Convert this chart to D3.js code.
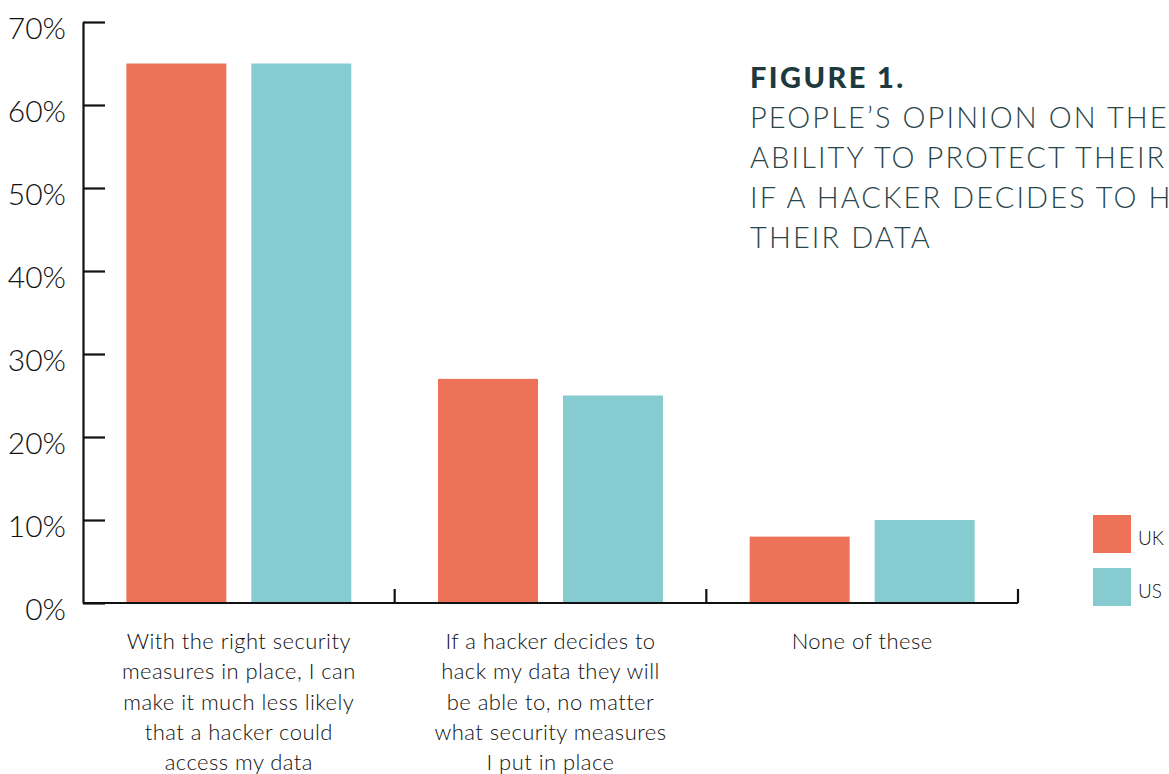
<!DOCTYPE html>
<html lang="en">
<head>
  <meta charset="UTF-8">
  <title>Figure 1</title>
  <style>
    body { margin: 0; background: #fff; }
    svg { display: block; font-family: Lato, "Open Sans", sans-serif; }
  </style>
</head>
<body>
  <script src="https://cdn.jsdelivr.net/npm/d3@7/dist/d3.min.js"></script>
  <script>
    // data
    let categories = ["right", "hacker", "none"];
    let labels = [
      ["With the right security", "measures in place, I can", "make it much less likely", "that a hacker could", "access my data"],
      ["If a hacker decides to", "hack my data they will", "be able to, no matter", "what security measures", "I put in place"],
      ["None of these"]
    ];
    let series = ["UK", "US"];
    let uk = [65, 27, 8];
    let us = [65, 25, 10];
    let yTicks = [0, 10, 20, 30, 40, 50, 60, 70];
    let titleLines = ["PEOPLE\u2019S OPINION ON THE", "ABILITY TO PROTECT THEIR", "IF A HACKER DECIDES TO HACK", "THEIR DATA"];

    let color = { UK: "#ee7257", US: "#86cbcf" };
    let width = 1169, height = 774;
    let mLeft = 83, mRight = 1018, mTop = 22, mBottom = 603;

    let svg = d3.select("body")
      .append("svg")
      .attr("width", width)
      .attr("height", height);

    let x = d3.scaleBand().domain(categories).range([mLeft, mRight]);
    let xs = d3.scaleBand().domain(series).range([0, x.bandwidth()])
      .paddingInner(0.2).paddingOuter(0.347);
    let y = d3.scaleLinear().domain([0, 70]).range([mBottom, mTop]);

    let rows = categories.map((c, i) => ({ cat: c, UK: uk[i], US: us[i] }));

    // bars
    let g = svg.selectAll("g.grp")
      .data(rows)
      .enter()
      .append("g")
      .attr("class", "grp")
      .attr("transform", d => "translate(" + x(d.cat) + ",0)");

    g.selectAll("rect")
      .data(d => series.map(s => ({ key: s, value: d[s] })))
      .enter()
      .append("rect")
      .attr("x", d => xs(d.key))
      .attr("y", d => y(d.value))
      .attr("width", xs.bandwidth())
      .attr("height", d => y(0) - y(d.value))
      .attr("fill", d => color[d.key]);

    // y axis, ticks point inward
    let yAxis = svg.append("g")
      .attr("transform", "translate(" + mLeft + ",0)")
      .call(d3.axisLeft(y)
        .tickValues(yTicks)
        .tickSizeInner(-22)
        .tickSizeOuter(0)
        .tickPadding(17)
        .tickFormat(d => d + "%"));
    yAxis.select(".domain").attr("stroke", "#111").attr("stroke-width", 2.2);
    yAxis.selectAll(".tick line").attr("stroke", "#111").attr("stroke-width", 2.2);
    yAxis.selectAll(".tick text")
      .attr("font-size", 30)
      .attr("font-family", "Lato")
      .attr("font-weight", 300)
      .attr("fill", "#111")
      .attr("dy", 16);

    // baseline and category boundary ticks
    svg.append("line")
      .attr("x1", mLeft).attr("x2", mRight)
      .attr("y1", y(0)).attr("y2", y(0))
      .attr("stroke", "#111").attr("stroke-width", 2.2);
    svg.selectAll("line.sep")
      .data(categories)
      .enter()
      .append("line")
      .attr("class", "sep")
      .attr("x1", d => x(d) + x.bandwidth())
      .attr("x2", d => x(d) + x.bandwidth())
      .attr("y1", y(0))
      .attr("y2", y(0) - 14)
      .attr("stroke", "#111").attr("stroke-width", 2.2);

    // category labels
    svg.selectAll("text.cat")
      .data(categories)
      .enter()
      .append("text")
      .attr("class", "cat")
      .attr("text-anchor", "middle")
      .attr("font-size", 22)
      .attr("font-weight", 300)
      .attr("letter-spacing", 0.45)
      .attr("fill", "#111")
      .each(function(d, i) {
        d3.select(this).selectAll("tspan")
          .data(labels[i])
          .enter()
          .append("tspan")
          .attr("x", x(d) + x.bandwidth() / 2)
          .attr("y", (t, j) => 649 + j * 30.3)
          .text(t => t);
      });

    // title
    svg.append("text")
      .attr("x", 750).attr("y", 88)
      .attr("font-size", 29)
      .attr("font-weight", 900)
      .attr("letter-spacing", 2.4)
      .attr("fill", "#1e3a3e")
      .text("FIGURE 1.");
    svg.selectAll("text.sub")
      .data(titleLines)
      .enter()
      .append("text")
      .attr("class", "sub")
      .attr("x", 750)
      .attr("y", (d, i) => 128 + i * 40)
      .attr("font-size", 29)
      .attr("font-weight", 300)
      .attr("letter-spacing", 2.1)
      .attr("fill", "#2a4549")
      .text(d => d);

    // legend
    let lg = svg.selectAll("g.lg")
      .data(series)
      .enter()
      .append("g")
      .attr("class", "lg")
      .attr("transform", (d, i) => "translate(1093," + (515 + i * 53) + ")");
    lg.append("rect")
      .attr("width", 38).attr("height", 38)
      .attr("fill", d => color[d]);
    lg.append("text")
      .attr("x", 45).attr("y", 30)
      .attr("font-size", 19)
      .attr("font-weight", 300)
      .attr("fill", "#111")
      .text(d => d);
  </script>
</body>
</html>
